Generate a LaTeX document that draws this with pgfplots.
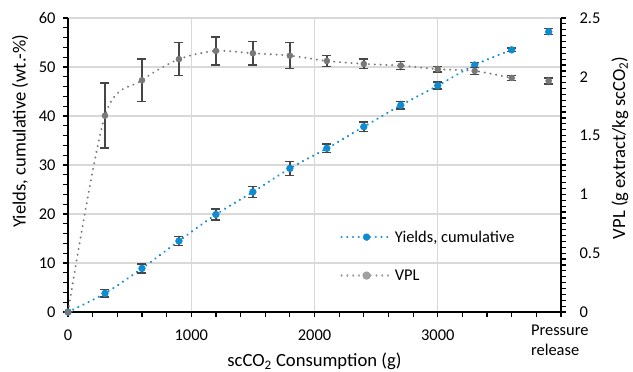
\documentclass[border=0pt]{standalone}
\usepackage{fontspec}
\setmainfont{Carlito}
\usepackage{pgfplots}
\pgfplotsset{compat=1.18}
\definecolor{yblue}{RGB}{14,140,210}
\definecolor{vgray}{RGB}{120,120,120}
\definecolor{lgray}{RGB}{160,160,160}
\definecolor{ebar}{RGB}{70,70,70}
\definecolor{gridc}{RGB}{217,217,217}

\pgfplotstableread{
x y e
0 0 0
300 3.8 0.75
600 8.9 0.9
900 14.5 0.95
1200 19.9 1.1
1500 24.5 1.1
1800 29.3 1.4
2100 33.4 0.85
2400 37.8 1.0
2700 42.2 0.8
3000 46.2 0.7
3300 50.4 0.5
3600 53.5 0.35
}\yieldtab
\pgfplotstableread{
x y e
3900 57.2 0.6
}\yieldpr
\pgfplotstableread{
x y e
0 0 0
300 1.67 0.277
600 1.97 0.18
900 2.15 0.14
1200 2.22 0.12
1500 2.20 0.10
1800 2.18 0.11
2100 2.135 0.045
2400 2.11 0.04
2700 2.095 0.035
3000 2.065 0.025
3300 2.05 0.03
3600 1.99 0.02
}\vpltab
\pgfplotstableread{
x y e
3900 1.965 0.025
}\vplpr

\newcommand{\tfont}{\fontsize{16.5}{21}\selectfont}
\newcommand{\lfont}{\fontsize{18.7}{22}\selectfont}
\begin{document}
\begin{tikzpicture}[font=\tfont]
\useasboundingbox (-68bp,-60bp) rectangle (565bp,312bp);
\pgfplotsset{
  every axis/.append style={
    /pgf/number format/assume math mode=true,
    /pgf/number format/1000 sep={},
    scale only axis, width=493bp, height=294bp, at={(0,0)}, anchor=south west,
    xmin=0, xmax=4000,
    axis line style={line width=1.5bp, black, -},
    tick align=outside, major tick length=5bp, minor tick length=5bp,
    every tick/.style={black, line width=1.2bp},
    every minor tick/.style={black, line width=1.2bp},
    tick label style={font=\tfont},
    label style={font=\lfont},
    legend style={font=\tfont},
  },
  ystyle/.style={color=yblue, line width=2.4bp, dash pattern=on 0.01bp off 5.7bp, line cap=round,
     mark=*, mark size=3.4bp, mark options={solid, fill=yblue, draw=yblue, line width=0.5bp}},
  vstyle/.style={color=vgray, line width=2.2bp, dash pattern=on 0.01bp off 5.8bp, line cap=round,
     mark=*, mark size=3bp, mark options={solid, fill=vgray, draw=vgray, line width=0.5bp}},
  ebars/.style={error bars/.cd, y dir=both, y explicit,
     error bar style={ebar, line width=1.4bp, solid},
     error mark options={rotate=90, mark size=4.5bp, ebar, line width=1.4bp, solid}},
}
\begin{axis}[
  ymin=0, ymax=60,
  axis x line*=bottom, axis y line*=left,
  xtick={0,1000,2000,3000}, minor xtick={200,400,...,4000},
  ytick={0,10,...,60}, minor y tick num=4,
  xticklabel style={yshift=-9bp},
  yticklabel style={xshift=-4bp},
  extra x ticks={3990}, extra x tick labels={Pressure\\release},
  extra x tick style={grid=none, major tick length=0pt, xticklabel style={align=left, font=\fontsize{16.5}{21}\selectfont}},
  grid=major, major grid style={gridc, line width=1.2bp},
  xlabel={scCO\textsubscript{2} Consumption (g)},
  ylabel={Yields, cumulative (wt.-\%)},
  xlabel style={at={(axis description cs:0.5,-0.168)}, anchor=center},
  ylabel style={at={(axis description cs:-0.0974,0.615)}, anchor=center},
]
\addplot[ystyle, smooth, ebars] table[x=x, y=y, y error=e] {\yieldtab};
\addplot[ystyle, only marks, ebars] table[x=x, y=y, y error=e] {\yieldpr};
\end{axis}
\begin{axis}[
  ymin=0, ymax=2.5,
  axis x line=none, axis y line*=right,
  ytick={0,0.5,...,2.5}, minor y tick num=9,
  yticklabel style={/pgf/number format/.cd, fixed, precision=1, /tikz/xshift=10bp},
  ylabel={VPL (g extract/kg scCO\textsubscript{2})},
  ylabel style={at={(axis description cs:1.1197,0.558)}, anchor=center},
  legend style={draw=none, fill=none, at={(axis description cs:0.546,0.19)}, anchor=west,
    row sep=22bp, legend cell align=left},
  legend image code/.code={\draw[mark repeat=2, mark phase=2, #1] plot coordinates {(0bp,0bp)(25bp,0bp)(50bp,0bp)};},
]
\addlegendimage{ystyle}
\addlegendentry{Yields, cumulative}
\addlegendimage{color=lgray, line width=2.2bp, dash pattern=on 0.01bp off 5.8bp, line cap=round, mark=*, mark size=3bp, mark options={solid, fill=lgray, draw=lgray}}
\addlegendentry{VPL}
\addplot[forget plot, vstyle, smooth, ebars] table[x=x, y=y, y error=e] {\vpltab};
\addplot[forget plot, vstyle, only marks, ebars] table[x=x, y=y, y error=e] {\vplpr};
\end{axis}
\end{tikzpicture}
\end{document}
